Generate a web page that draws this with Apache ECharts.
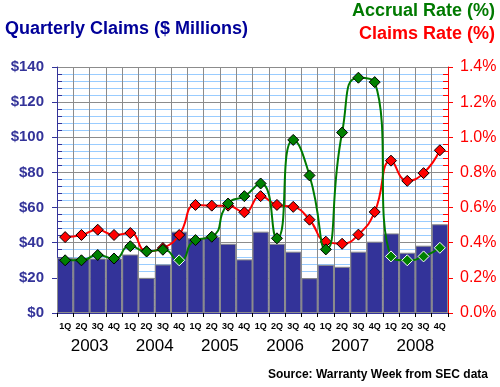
<!DOCTYPE html>
<html>
<head>
<meta charset="utf-8">
<script src="https://cdn.jsdelivr.net/npm/echarts@6/dist/echarts.min.js"></script>
<style>
html,body{margin:0;padding:0;background:#fff;}
#chart{width:500px;height:387px;}
</style>
</head>
<body>
<div id="chart"></div>
<script>
const quarters = ['1Q','2Q','3Q','4Q','1Q','2Q','3Q','4Q','1Q','2Q','3Q','4Q','1Q','2Q','3Q','4Q','1Q','2Q','3Q','4Q','1Q','2Q','3Q','4Q'];
const years = ['2003','2004','2005','2006','2007','2008'];
const claims = [31.5, 31.3, 31, 31, 33.3, 20, 27.6, 46.3, 42.5, 43.4, 39.4, 30.5, 46.3, 39.4, 34.9, 19.8, 27.4, 26.3, 34.9, 40.6, 45.3, 34.3, 38.3, 50.5];
const claimsRate = [0.432, 0.444, 0.474, 0.444, 0.455, 0.352, 0.37, 0.444, 0.615, 0.611, 0.611, 0.573, 0.665, 0.615, 0.604, 0.531, 0.406, 0.394, 0.446, 0.575, 0.867, 0.752, 0.796, 0.926];
const accrualRate = [0.30, 0.30, 0.33, 0.31, 0.38, 0.35, 0.36, 0.30, 0.415, 0.434, 0.623, 0.665, 0.737, 0.425, 0.985, 0.783, 0.362, 1.027, 1.339, 1.314, 0.322, 0.30, 0.322, 0.371];
const leftTicks = [0, 20, 40, 60, 80, 100, 120, 140];
const rightTicks = [0, 0.2, 0.4, 0.6, 0.8, 1.0, 1.2, 1.4];

const FONT = 'Liberation Sans, Arial, sans-serif';
const NAVY = '#333399';
const RED = '#ff0000';
const GREEN = '#007a00';

function markerData(rates, fill) {
  return rates.map((v, i) => ({
    value: v,
    itemStyle: { color: fill, borderColor: (v * 100 < claims[i] - 4) ? '#ffffff' : '#000000', borderWidth: 1 }
  }));
}

const chart = echarts.init(document.getElementById('chart'), null, {renderer: 'canvas'});
chart.setOption({
  animation: false,
  backgroundColor: '#ffffff',
  grid: { left: 57, right: 52, top: 67, bottom: 74, containLabel: false },
  graphic: [
    { type: 'text', left: 5, top: 20, style: { text: 'Quarterly Claims ($ Millions)', fill: '#000099', font: 'bold 18px ' + FONT } },
    { type: 'text', right: 5, top: 2, style: { text: 'Accrual Rate (%)', fill: GREEN, font: 'bold 18px ' + FONT } },
    { type: 'text', right: 5, top: 25, style: { text: 'Claims Rate (%)', fill: RED, font: 'bold 18px ' + FONT } },
    { type: 'text', right: 12, top: 369, style: { text: 'Source: Warranty Week from SEC data', fill: '#000', font: 'bold 12px ' + FONT } }
  ],
  xAxis: [
    {
      type: 'category', data: quarters, position: 'bottom', z: 1,
      axisLine: { show: true, lineStyle: { color: NAVY, width: 1 } },
      axisTick: { show: true, length: 4, interval: 0, lineStyle: { color: '#000' } },
      axisLabel: { interval: 0, margin: 9, color: '#000', fontFamily: FONT, fontSize: 9, fontWeight: 'bold' },
      splitLine: { show: true, interval: 0, lineStyle: { color: '#8c8c8c', width: 1 } }
    },
    {
      type: 'category', data: years, position: 'bottom',
      axisLine: { show: false }, axisTick: { show: false }, splitLine: { show: false },
      axisLabel: { interval: 0, margin: 25, color: '#000', fontFamily: FONT, fontSize: 17 }
    }
  ],
  yAxis: [
    {
      type: 'value', min: 0, max: 140, interval: 20, position: 'left', z: 1,
      axisLine: { show: true, lineStyle: { color: NAVY } },
      axisTick: { show: true, inside: false, length: 5, lineStyle: { color: NAVY } },
      axisLabel: { margin: 13, color: NAVY, fontFamily: FONT, fontSize: 15, fontWeight: 'bold', formatter: v => '$' + v },
      splitLine: { show: true, lineStyle: { color: '#8c8c8c', width: 1 } }
    },
    {
      type: 'value', min: 0, max: 140, interval: 4, position: 'left', z: 0,
      axisLine: { show: false },
      axisTick: { show: true, inside: true, length: 5, lineStyle: { color: NAVY } },
      axisLabel: { show: false },
      splitLine: { show: true, lineStyle: { color: '#99ccff', width: 1 } }
    },
    {
      type: 'value', min: 0, max: 1.4, interval: 0.2, position: 'right', z: 1,
      axisLine: { show: true, lineStyle: { color: RED } },
      axisTick: { show: true, inside: false, length: 5, lineStyle: { color: RED } },
      axisLabel: { margin: 12, color: RED, fontFamily: FONT, fontSize: 16, formatter: v => v.toFixed(1) + '%' },
      splitLine: { show: false }
    },
    {
      type: 'value', min: 0, max: 140, interval: 4, position: 'right', z: 0,
      axisLine: { show: false },
      axisTick: { show: true, inside: true, length: 5, lineStyle: { color: RED } },
      axisLabel: { show: false },
      splitLine: { show: false }
    }
  ],
  series: [
    {
      type: 'bar', data: claims, xAxisIndex: 0, yAxisIndex: 0,
      barCategoryGap: '0%',
      itemStyle: { color: NAVY, borderColor: '#8c8c8c', borderWidth: 1 },
      z: 2
    },
    {
      type: 'line', data: markerData(claimsRate, RED), xAxisIndex: 0, yAxisIndex: 2,
      smooth: 0.5, symbol: 'diamond', symbolSize: 11,
      lineStyle: { color: RED, width: 2 },
      z: 3
    },
    {
      type: 'line', data: markerData(accrualRate, '#008000'), xAxisIndex: 0, yAxisIndex: 2,
      smooth: 0.6, symbol: 'diamond', symbolSize: 11,
      lineStyle: { color: GREEN, width: 2 },
      z: 4
    }
  ]
});
</script>
</body>
</html>
